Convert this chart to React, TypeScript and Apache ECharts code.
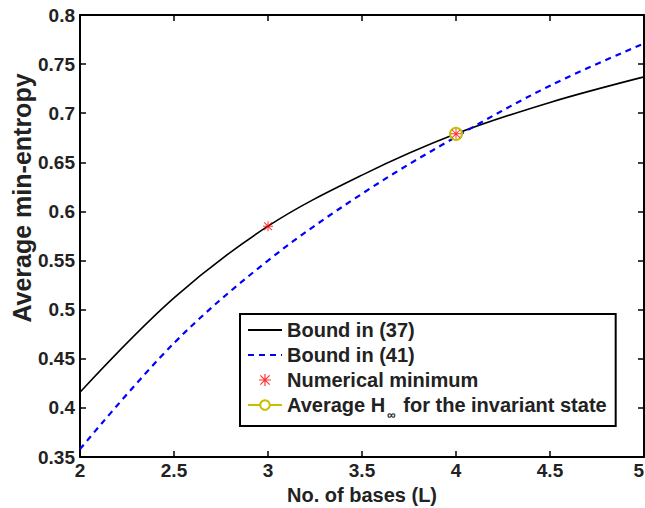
import React, { useEffect, useRef } from "react";
import * as echarts from "echarts";

const xValues = [2, 2.5, 3, 3.5, 4, 4.5, 5];
const bound37 = [0.416, 0.512, 0.585, 0.637, 0.679, 0.711, 0.737];
const bound41 = [0.358, 0.466, 0.55, 0.618, 0.676, 0.728, 0.771];
const numericalX = [3, 4];
const numericalY = [0.585, 0.679];
const invariantX = [4];
const invariantY = [0.679];

const NAME37 = "Bound in (37)";
const NAME41 = "Bound in (41)";
const NAMENUM = "Numerical minimum";
const NAMEINV = "Average H∞ for the invariant state";

const FONT = "'Liberation Sans', Arial, Helvetica, sans-serif";
const STAR =
  "path://M4.5,0 L5.5,0 L5.5,10 L4.5,10 Z M0,4.5 L10,4.5 L10,5.5 L0,5.5 Z M1.5,0.8 L9.2,8.5 L8.5,9.2 L0.8,1.5 Z M8.5,0.8 L9.2,1.5 L1.5,9.2 L0.8,8.5 Z";

export default function App() {
  const ref = useRef<HTMLDivElement>(null);
  useEffect(() => {
    if (!ref.current) return;
    const chart = echarts.init(ref.current, undefined, { renderer: "svg" });
    const axisLine = { show: true, lineStyle: { color: "#000", width: 2 } };
    const axisTick = { show: true, inside: true, length: 6, lineStyle: { color: "#000", width: 1.5 } };
    const labelStyle = { fontSize: 19, fontWeight: "bold" as const, fontFamily: FONT, color: "#222" };
    chart.setOption({
      animation: false,
      backgroundColor: "#fff",
      grid: { left: 80, top: 15, right: 1, bottom: 51, containLabel: false, outerBoundsMode: "none" },
      xAxis: [
        {
          type: "value",
          min: 2,
          max: 5,
          interval: 0.5,
          position: "bottom",
          axisLine,
          axisTick,
          splitLine: { show: false },
          axisLabel: { ...labelStyle, margin: 4, alignMaxLabel: "right" },
          name: "No. of bases (L)",
          nameLocation: "middle",
          nameGap: 27,
          nameTextStyle: { ...labelStyle, fontSize: 20 },
        },
        {
          type: "value",
          min: 2,
          max: 5,
          interval: 0.5,
          position: "top",
          axisLine,
          axisTick,
          splitLine: { show: false },
          axisLabel: { show: false },
        },
      ],
      yAxis: [
        {
          type: "value",
          min: 0.35,
          max: 0.8,
          interval: 0.05,
          position: "left",
          axisLine,
          axisTick,
          splitLine: { show: false },
          axisLabel: { ...labelStyle, margin: 5, formatter: (v: number) => String(Math.round(v * 100) / 100) },
        },
        {
          type: "value",
          min: 0.35,
          max: 0.8,
          interval: 0.05,
          position: "right",
          axisLine,
          axisTick,
          splitLine: { show: false },
          axisLabel: { show: false },
        },
      ],
      legend: {
        orient: "vertical",
        left: 240,
        top: 314,
        padding: [6, 9, 5, 7],
        itemGap: 5,
        itemWidth: 34,
        itemHeight: 12,
        borderColor: "#000",
        borderWidth: 2,
        backgroundColor: "#fff",
        data: [
          { name: NAME37, itemStyle: { opacity: 0 } },
          { name: NAME41, itemStyle: { opacity: 0 } },
          { name: NAMENUM },
          { name: NAMEINV },
        ],
        textStyle: {
          ...labelStyle,
          fontSize: 20,
          color: "#222",
          lineHeight: 20,
          rich: {
            sub: { fontSize: 12, fontWeight: "bold", fontFamily: FONT, color: "#222", padding: [20, 2, 0, 2] },
          },
        },
        formatter: (name: string) =>
          name === NAMEINV ? "Average H{sub|∞} for the invariant state" : name,
      },
      graphic: [
        {
          type: "text",
          x: 22,
          y: 198,
          rotation: Math.PI / 2,
          style: {
            text: "Average min-entropy",
            fontSize: 25,
            fontWeight: "bold",
            fontFamily: FONT,
            fill: "#222",
            align: "center",
            verticalAlign: "middle",
          },
        },
      ],
      series: [
        {
          name: NAME37,
          type: "line",
          smooth: 0.35,
          symbol: "none",
          data: xValues.map((x, i) => [x, bound37[i]]),
          lineStyle: { color: "#000", width: 1.6 },
          itemStyle: { color: "#000" },
          z: 2,
        },
        {
          name: NAME41,
          type: "line",
          smooth: 0.35,
          symbol: "none",
          data: xValues.map((x, i) => [x, bound41[i]]),
          lineStyle: { color: "#0000ff", width: 2.2, type: [6, 5] },
          itemStyle: { color: "#0000ff" },
          z: 3,
        },
        {
          name: NAMEINV,
          type: "line",
          symbol: "emptyCircle",
          symbolSize: 12,
          data: invariantX.map((x, i) => [x, invariantY[i]]),
          lineStyle: { color: "#c4c000", width: 2 },
          itemStyle: { color: "#c4c000", borderColor: "#c4c000", borderWidth: 2.5 },
          z: 4,
        },
        {
          name: NAMENUM,
          type: "scatter",
          symbol: STAR,
          symbolSize: 10,
          data: numericalX.map((x, i) => [x, numericalY[i]]),
          itemStyle: { color: "#ff0000" },
          z: 5,
        },
      ],
    });
    return () => chart.dispose();
  }, []);
  return <div ref={ref} style={{ width: 645, height: 508, position: "absolute", left: 0, top: 0 }} />;
}
